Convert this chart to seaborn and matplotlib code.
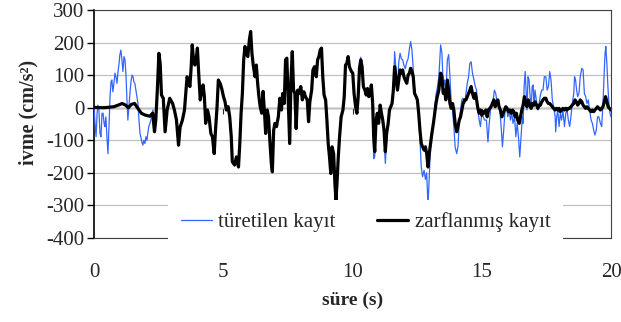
import matplotlib
matplotlib.use("Agg")
import matplotlib.pyplot as plt
import seaborn as sns
import pandas as pd

# ---- data (time in s, acceleration in cm/s^2) ----
blue_a = [(0, 3), (0.04, -48), (0.08, -89), (0.12, -17), (0.15, 8), (0.19, -7), (0.23, -79),
          (0.27, -89), (0.31, -17), (0.35, -17), (0.39, -48), (0.42, -58), (0.46, -28),
          (0.50, -89), (0.54, -141), (0.58, -58), (0.62, 34), (0.66, 80), (0.69, 85),
          (0.73, 49), (0.77, 75), (0.81, 106), (0.85, 95), (0.89, 75), (0.93, 111),
          (0.97, 136), (1.00, 162), (1.04, 177), (1.08, 147), (1.12, 111), (1.16, 157),
          (1.20, 147), (1.24, 95), (1.27, 34), (1.31, -38), (1.35, 3), (1.39, 44),
          (1.43, 80), (1.47, 100), (1.51, 95), (1.54, 80), (1.58, 75), (1.62, 54),
          (1.66, 34), (1.70, 13), (1.74, -38), (1.78, -79), (1.81, -89), (1.85, -105),
          (1.89, -115), (1.93, -100), (1.97, -110), (2.01, -89), (2.05, -100), (2.08, -79),
          (2.12, -58), (2.16, -48), (2.20, -38), (2.24, -17), (2.28, -7), (2.31, -40)]

black_a = [(0, 1), (0.39, 0), (0.77, 3), (0.97, 9), (1.09, 13), (1.22, 8), (1.33, 0),
           (1.44, 10), (1.57, 13), (1.70, -2), (1.83, -17), (1.99, -23), (2.16, -26),
           (2.27, -17)]

# segment where both records coincide
shared = [(2.34, -74), (2.39, -38), (2.45, 54), (2.51, 167), (2.56, 136), (2.61, 39),
          (2.68, 29), (2.75, -74), (2.83, -7), (2.93, 29), (3.04, 13), (3.11, -7),
          (3.19, -38), (3.27, -115), (3.33, -60), (3.42, -38), (3.50, -7), (3.55, 44),
          (3.60, 95), (3.65, 85), (3.71, 65), (3.76, 126), (3.80, 193), (3.85, 147),
          (3.90, 131), (3.95, 147), (4.00, 183), (4.05, 106), (4.11, 24), (4.17, 53),
          (4.22, 70), (4.27, 34), (4.32, -48), (4.39, -7), (4.45, -28), (4.52, -79),
          (4.58, -89), (4.65, -141), (4.70, -69), (4.76, 3), (4.81, 85), (4.88, 75),
          (4.94, 59), (5.01, 34), (5.07, 18), (5.12, -7), (5.19, 3), (5.25, -28),
          (5.31, -89), (5.35, -166), (5.44, -176), (5.51, -151), (5.59, -182), (5.64, -110),
          (5.69, -17), (5.74, 44), (5.79, 147), (5.84, 188), (5.89, 167), (5.95, 157),
          (6.01, 208), (6.06, 234), (6.11, 167), (6.16, 131), (6.23, 95), (6.28, 131),
          (6.33, 75), (6.38, 34), (6.43, 3), (6.49, -17), (6.54, 50), (6.60, -20),
          (6.64, -79), (6.70, -7), (6.75, -28), (6.81, -110), (6.86, -171), (6.90, -197),
          (6.95, -69), (7.00, -48), (7.06, -58), (7.13, -28), (7.19, 29), (7.25, -7),
          (7.30, 44), (7.36, 13), (7.41, 147), (7.46, 152), (7.52, 13), (7.57, -110),
          (7.62, 85), (7.67, 172), (7.72, 54), (7.77, 44), (7.82, -64), (7.88, 54),
          (7.93, 44), (8.00, 65), (8.06, 24), (8.12, 49), (8.18, 34), (8.25, 24),
          (8.30, -43), (8.35, 18), (8.42, 54), (8.47, 116), (8.53, 126), (8.60, 95),
          (8.65, 147), (8.70, 157), (8.75, 177), (8.80, 183), (8.85, 95), (8.90, 39),
          (8.96, 24), (9.01, -38), (9.06, -110), (9.11, -151), (9.16, -202), (9.21, -120),
          (9.27, -141), (9.32, -233), (9.36, -284), (9.40, -233), (9.45, -151), (9.50, -89),
          (9.56, -28), (9.63, -7), (9.68, 34), (9.73, 131), (9.78, 136), (9.83, 157),
          (9.88, 126), (9.93, 116), (9.97, 110)]

black_c = [(10.01, 106), (10.06, 44), (10.12, 3), (10.17, -17), (10.22, 34), (10.27, 121),
           (10.32, 147), (10.37, 126), (10.42, 65), (10.48, 54), (10.53, 39), (10.58, 59),
           (10.63, 34), (10.68, 44), (10.73, 70), (10.78, 13), (10.82, -89), (10.86, -135),
           (10.91, -38), (10.96, -17), (11.01, -48), (11.07, 8), (11.12, -17), (11.17, -38),
           (11.22, -69), (11.27, -135), (11.32, -79), (11.38, -48), (11.43, -7), (11.48, 3),
           (11.53, 13), (11.58, 54), (11.63, 126), (11.68, 95), (11.74, 54), (11.79, 85),
           (11.84, 116), (11.89, 106), (11.94, 116), (11.99, 95), (12.04, 85), (12.10, 75),
           (12.15, 100), (12.20, 106), (12.25, 121), (12.30, 111), (12.35, 95), (12.40, 44),
           (12.46, 34), (12.51, 24), (12.56, -17), (12.61, -69), (12.66, -110), (12.71, -120),
           (12.77, -130), (12.82, -120), (12.87, -141), (12.92, -182), (12.97, -141),
           (13.02, -110), (13.07, -79), (13.13, -48), (13.18, -17), (13.23, 13), (13.28, 34)]

blue_c = [(10.01, 106), (10.06, 44), (10.12, 3), (10.17, -17), (10.22, 34), (10.27, 125),
          (10.32, 155), (10.37, 126), (10.42, 65), (10.48, 54), (10.53, 39), (10.58, 59),
          (10.63, 34), (10.68, 44), (10.73, 70), (10.78, 13), (10.82, -156), (10.86, -150),
          (10.91, -38), (10.96, -17), (11.01, -48), (11.07, 8), (11.12, -17), (11.17, -38),
          (11.22, -90), (11.27, -171), (11.32, -100), (11.38, -48), (11.43, -7), (11.48, 3),
          (11.53, 13), (11.58, 54), (11.63, 172), (11.68, 120), (11.74, 54), (11.79, 140),
          (11.84, 167), (11.89, 150), (11.94, 147), (11.99, 130), (12.04, 120), (12.10, 140),
          (12.15, 150), (12.20, 180), (12.25, 203), (12.30, 177), (12.35, 120), (12.40, 60),
          (12.46, 34), (12.51, 24), (12.56, -17), (12.61, -100), (12.66, -182), (12.71, -212),
          (12.77, -192), (12.82, -220), (12.87, -200), (12.92, -300), (12.97, -212),
          (13.02, -110), (13.07, -70), (13.13, -48), (13.18, 0), (13.23, 40), (13.28, 60)]

black_d = [(13.34, 54), (13.41, 106), (13.46, 95), (13.51, 44), (13.56, 54), (13.61, 24),
           (13.67, 85), (13.72, 54), (13.77, 13), (13.82, -2), (13.87, 13), (13.92, -7),
           (13.97, -48), (14.03, -74), (14.08, -58), (14.13, -38), (14.18, -28), (14.23, -7),
           (14.28, 13), (14.34, 24), (14.39, 24), (14.44, 34), (14.49, 44), (14.54, 54),
           (14.59, 65), (14.64, 44), (14.70, 29), (14.75, 44), (14.80, 24), (14.85, -2),
           (14.90, -17), (14.95, -7), (15.00, -23), (15.06, -12), (15.11, -17), (15.16, -7),
           (15.21, -28), (15.26, -7), (15.31, -2), (15.36, 3), (15.41, 13), (15.47, 24),
           (15.52, 3), (15.57, 13), (15.62, 24), (15.67, 3), (15.72, -7), (15.78, -28),
           (15.83, -17), (15.88, -7), (15.93, 3), (15.98, -2), (16.03, -12), (16.09, -7),
           (16.14, -17), (16.19, -7), (16.24, -12), (16.29, -28), (16.34, -17), (16.39, -38),
           (16.45, -48), (16.50, -28), (16.55, -7), (16.60, 8), (16.65, 34), (16.70, 13),
           (16.75, 3), (16.80, 24), (16.86, 8), (16.91, -2), (16.96, 13), (17.01, 8),
           (17.06, 18), (17.12, 8), (17.17, -2), (17.22, 8), (17.27, 8), (17.32, 18),
           (17.37, 24), (17.42, 29), (17.48, 29), (17.53, 18), (17.58, 13), (17.63, 13),
           (17.68, 8), (17.73, 3), (17.78, -2), (17.84, -7), (17.89, -2), (17.94, -7),
           (17.99, -2), (18.04, -12), (18.09, -7), (18.14, -2), (18.20, -7), (18.25, -2),
           (18.30, -7), (18.35, -2), (18.40, -2), (18.45, 3), (18.50, 8), (18.56, 13),
           (18.61, 24), (18.66, 18), (18.71, 8), (18.76, 13), (18.81, 24), (18.87, 18),
           (18.92, 8), (18.97, 3), (19.02, -2), (19.07, 3), (19.12, -2), (19.17, -7),
           (19.23, -12), (19.28, -7), (19.33, -12), (19.38, -7), (19.43, -2), (19.48, 3),
           (19.53, -2), (19.59, -7), (19.64, -2), (19.69, 3), (19.74, 18), (19.79, 34),
           (19.84, 18), (19.89, 3), (19.94, -2), (20.0, -7)]

blue_d = [(13.34, 95), (13.41, 193), (13.46, 167), (13.51, 65), (13.56, 85), (13.61, 44),
          (13.67, 147), (13.72, 163), (13.77, 95), (13.82, 13), (13.87, -7), (13.92, -58),
          (13.97, -120), (14.03, -141), (14.08, -120), (14.13, -48), (14.18, -7), (14.23, 24),
          (14.28, 29), (14.34, 13), (14.39, 44), (14.44, 75), (14.49, 95), (14.54, 136),
          (14.59, 141), (14.64, 106), (14.70, 85), (14.75, 65), (14.80, 54), (14.85, -7),
          (14.90, -38), (14.95, -58), (15.00, -17), (15.06, -28), (15.11, -38), (15.18, -38),
          (15.24, -105), (15.29, -48), (15.34, -7), (15.39, 13), (15.44, 24), (15.49, 54),
          (15.54, 44), (15.60, 13), (15.65, 24), (15.70, -7), (15.75, -58), (15.80, -120),
          (15.85, -69), (15.90, -7), (15.96, 3), (16.01, -28), (16.06, -7), (16.11, -38),
          (16.16, -17), (16.21, -48), (16.27, -28), (16.32, -89), (16.37, -48), (16.42, -89),
          (16.47, -151), (16.52, -89), (16.57, -28), (16.60, -48), (16.64, 65), (16.68, 111),
          (16.72, 44), (16.75, -7), (16.79, 95), (16.83, 85), (16.87, 34), (16.91, -3),
          (16.95, 65), (16.99, 70), (17.02, 3), (17.06, 54), (17.11, 24), (17.17, -7),
          (17.22, 13), (17.27, 39), (17.32, 54), (17.37, 54), (17.42, 95), (17.48, 95),
          (17.53, 54), (17.58, 65), (17.63, 111), (17.68, 85), (17.73, 24), (17.78, 3),
          (17.84, -28), (17.86, -74), (17.90, -28), (17.94, -7), (17.99, -58), (18.04, -17),
          (18.09, -38), (18.14, -7), (18.20, -58), (18.25, -17), (18.30, -7), (18.35, -38),
          (18.40, -58), (18.45, -28), (18.50, 13), (18.56, 44), (18.59, 95), (18.63, 85),
          (18.67, 54), (18.71, 34), (18.76, 44), (18.81, 95), (18.87, 121), (18.92, 116),
          (18.97, 44), (19.02, 34), (19.07, 13), (19.12, 24), (19.17, -7), (19.23, -38),
          (19.28, -48), (19.33, -69), (19.38, -84), (19.43, -69), (19.48, -28), (19.53, -28),
          (19.59, -48), (19.64, -58), (19.69, 13), (19.73, 95), (19.77, 167), (19.80, 188),
          (19.84, 136), (19.88, 65), (19.92, 13), (19.96, -17), (20.0, -28)]

x_ticks = [0, 5, 10, 15, 20]
y_ticks = [-400, -300, -200, -100, 0, 100, 200, 300]
label_blue = "türetilen kayıt"
label_black = "zarflanmış kayıt"
xlabel = "süre (s)"
ylabel = "ivme (cm/s²)"

blue = pd.DataFrame(blue_a + shared + blue_c + blue_d, columns=["t", "a"])
black = pd.DataFrame(black_a + shared + black_c + black_d, columns=["t", "a"])

sns.set_style("white")
plt.rcParams["font.family"] = ["Liberation Serif", "DejaVu Serif"]
plt.rcParams["axes.unicode_minus"] = False

fig = plt.figure(figsize=(6.21, 3.22), dpi=100)
ax = fig.add_axes([94 / 621, 1 - 238 / 322, 517 / 621, 228 / 322])

ax.set_ylim(-400, 300)
ax.set_xlim(0, 20)
ax.set_yticks(y_ticks)
ax.set_xticks(x_ticks)
ax.yaxis.grid(True, color="#c0c0c0", lw=0.9)
ax.set_axisbelow(True)

sns.lineplot(data=blue, x="t", y="a", ax=ax, color="#3366ff", lw=0.9,
             label=label_blue, zorder=3)
sns.lineplot(data=black, x="t", y="a", ax=ax, color="black", lw=2.3,
             label=label_black, zorder=4)

# zero line with x ticks on it
sec = ax.secondary_xaxis(0, transform=ax.transData)
sec.set_xticks(x_ticks)
sec.tick_params(axis="x", direction="out", length=4, width=0.8, labelbottom=False)
sec.spines["bottom"].set_color("black")
sec.spines["bottom"].set_linewidth(0.9)

for side in ["top", "right", "bottom"]:
    ax.spines[side].set_color("#404040")
    ax.spines[side].set_linewidth(0.8)
ax.spines["left"].set_color("black")
ax.spines["left"].set_linewidth(1.2)

ax.tick_params(axis="y", direction="out", length=5, width=1, pad=2, labelsize=15,
               left=True, color="black")
ax.tick_params(axis="x", length=0, pad=18, labelsize=15)

ax.set_xlabel(xlabel, fontsize=14, fontweight="bold")
ax.set_ylabel(ylabel, fontsize=14.5, fontweight="bold")
ax.xaxis.set_label_coords(0.5, (238 - 300) / 228)
ax.xaxis.label.set_va("center")
ax.yaxis.set_label_coords((28 - 94) / 517, 0.55)
ax.yaxis.label.set_va("center")

leg = ax.legend(loc="center", bbox_to_anchor=(0.525, (238 - 222) / 228), ncol=2,
                frameon=True, fancybox=False, framealpha=1, facecolor="white",
                edgecolor="none", fontsize=15, handlelength=1.5, handletextpad=0.3,
                columnspacing=2.0, borderpad=0.6)

fig.savefig("out.png", dpi=100)
